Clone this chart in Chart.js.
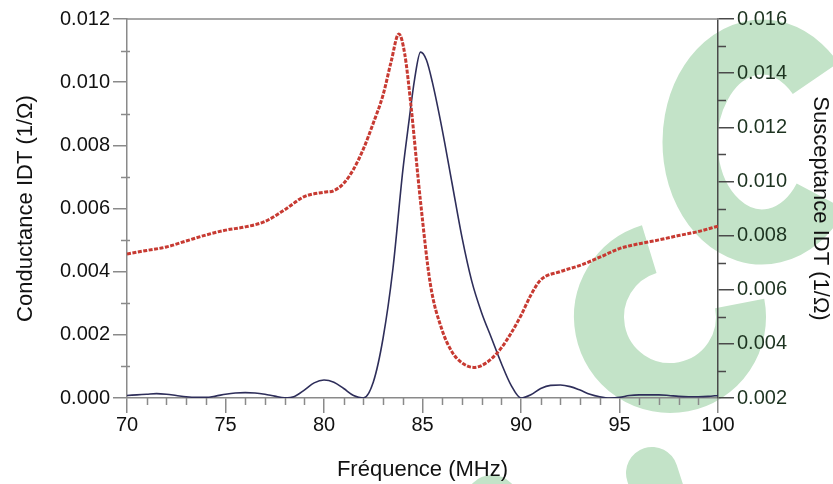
<!DOCTYPE html>
<html>
<head>
<meta charset="utf-8">
<title>Conductance / Susceptance IDT</title>
<script src="https://cdn.jsdelivr.net/npm/chart.js@4.4.1/dist/chart.umd.min.js"></script>
<style>
  html, body { margin: 0; padding: 0; background: #fff; }
  #wrap { width: 833px; height: 484px; }
</style>
</head>
<body>
<div id="wrap"><canvas id="idtChart" width="833" height="484"></canvas></div>
<script>
// Conductance (left axis) - frequency in MHz
const freqG = [70, 70.5, 71, 71.5, 72, 72.5, 73, 73.5, 74, 74.5, 75, 75.5, 76, 76.5, 77, 77.5, 78, 78.5,
  79, 79.5, 80, 80.5, 81, 81.5, 82, 82.5, 83, 83.5, 84, 84.3, 84.6, 84.9, 85.2, 85.5, 86, 86.5, 87, 87.5,
  88, 88.5, 89, 89.5, 90, 90.5, 91, 91.5, 92, 92.5, 93, 93.5, 94, 94.5, 95, 95.5, 96, 96.5, 97, 97.5,
  98, 98.5, 99, 99.5, 100];
const conductance = [0.00008, 0.0001, 0.00012, 0.00014, 0.00012, 0.00008, 0.00004, 0.00002, 0.00002, 0.00006,
  0.00012, 0.00016, 0.00017, 0.00016, 0.00012, 0.00006, 0.00001, 0.00005, 0.00025, 0.00048, 0.00057, 0.0005,
  0.0003, 0.00008, 0.0, 0.0005, 0.0019, 0.0041, 0.0072, 0.0087, 0.0101, 0.01095, 0.0107, 0.01, 0.0085, 0.0068,
  0.0051, 0.0037, 0.0027, 0.0019, 0.0011, 0.0004, 0.0, 0.0001, 0.0003, 0.0004, 0.00041, 0.00036, 0.00025,
  0.00012, 0.00004, 0.0, 0.00002, 0.00008, 0.0001, 0.0001, 0.0001, 0.00008, 0.00005, 0.00004, 0.00004,
  0.00005, 0.00008];

// Susceptance (right axis)
const freqB = [70, 71, 72, 73, 74, 75, 76, 77, 78, 79, 80, 80.5, 81, 81.5, 82, 82.5, 83, 83.4, 83.8, 84.1,
  84.4, 84.9, 85.4, 86, 86.5, 87, 87.6, 88, 88.5, 89, 89.5, 90, 90.5, 91, 92, 93, 94, 95, 96, 97, 98, 99, 100];
const susceptance = [0.00732, 0.00745, 0.00758, 0.0078, 0.00802, 0.0082, 0.00832, 0.00852, 0.00895, 0.00944,
  0.0096, 0.00966, 0.00993, 0.01045, 0.0112, 0.01215, 0.0132, 0.0144, 0.01545, 0.0147, 0.0129, 0.00925,
  0.0062, 0.0045, 0.0037, 0.0033, 0.00313, 0.0032, 0.00345, 0.00385, 0.0044, 0.00505, 0.0058, 0.00636,
  0.00667, 0.0069, 0.0072, 0.00752, 0.0077, 0.00784, 0.008, 0.00815, 0.00835];

// minor tick positions
const xMinor = [71, 72, 73, 74, 76, 77, 78, 79, 81, 82, 83, 84, 86, 87, 88, 89, 91, 92, 93, 94, 96, 97, 98, 99];
const yLeftMinor = [0.001, 0.003, 0.005, 0.007, 0.009, 0.011];
const yRightMinor = [0.003, 0.005, 0.007, 0.009, 0.011, 0.013, 0.015];

const axisGrey = '#8a8a8a';
const axisDark = '#4a4a4a';
const fontFam = "'Liberation Sans', Arial, Helvetica, sans-serif";
const textCol = '#111';

// green background watermark
const watermark = {
  id: 'watermark',
  beforeDraw(chart) {
    const c = chart.ctx;
    const d = Math.PI / 180;
    c.save();
    c.strokeStyle = '#c3e3c8';
    c.fillStyle = '#c3e3c8';
    c.lineWidth = 55;
    c.beginPath();
    c.ellipse(762, 142, 72, 95, 0, 35 * d, 318 * d);
    c.stroke();
    c.lineWidth = 50;
    c.beginPath();
    c.arc(670, 317, 71, -11 * d, 253 * d);
    c.stroke();
    c.lineCap = 'round';
    c.lineWidth = 52;
    c.beginPath();
    c.moveTo(652, 473);
    c.lineTo(664, 510);
    c.stroke();
    c.beginPath();
    c.arc(492, 502, 27, 0, 2 * Math.PI);
    c.fill();
    c.restore();
  }
};

const minorTicks = {
  id: 'minorTicks',
  afterDraw(chart) {
    const { ctx, chartArea: a, scales } = chart;
    ctx.save();
    ctx.lineWidth = 1.5;
    ctx.strokeStyle = axisGrey;
    ctx.beginPath();
    ctx.moveTo(a.left, a.top);
    ctx.lineTo(a.right, a.top);
    xMinor.forEach(f => {
      const px = Math.round(scales.x.getPixelForValue(f)) + 0.5;
      ctx.moveTo(px, a.bottom);
      ctx.lineTo(px, a.bottom + 7);
    });
    yLeftMinor.forEach(v => {
      const py = Math.round(scales.y.getPixelForValue(v)) + 0.5;
      ctx.moveTo(a.left - 6, py);
      ctx.lineTo(a.left + 3, py);
    });
    ctx.stroke();
    ctx.strokeStyle = axisDark;
    ctx.beginPath();
    yRightMinor.forEach(v => {
      const py = Math.round(scales.y2.getPixelForValue(v)) + 0.5;
      ctx.moveTo(a.right, py);
      ctx.lineTo(a.right + 8, py);
    });
    ctx.stroke();
    ctx.restore();
  }
};

function fmt(v) {
  return v.toFixed(3);
}

const ctx = document.getElementById('idtChart').getContext('2d');
new Chart(ctx, {
  type: 'line',
  data: {
    datasets: [
      {
        label: 'Susceptance',
        data: freqB.map((f, i) => ({ x: f, y: susceptance[i] })),
        yAxisID: 'y2',
        borderColor: '#c73a32',
        borderWidth: 3,
        borderDash: [4, 1.5],
        pointRadius: 0,
        cubicInterpolationMode: 'monotone',
        fill: false
      },
      {
        label: 'Conductance',
        data: freqG.map((f, i) => ({ x: f, y: conductance[i] })),
        yAxisID: 'y',
        borderColor: '#2e2e5a',
        borderWidth: 1.6,
        pointRadius: 0,
        cubicInterpolationMode: 'monotone',
        fill: false
      }
    ]
  },
  options: {
    responsive: false,
    animation: false,
    devicePixelRatio: 1,
    layout: { padding: { top: 19, left: 0, right: 0, bottom: 0 } },
    plugins: {
      legend: { display: false },
      tooltip: { enabled: false }
    },
    scales: {
      x: {
        type: 'linear',
        position: 'bottom',
        min: 70,
        max: 100,
        afterFit: s => { s.height = 86; },
        ticks: { stepSize: 5, padding: 0, color: textCol, font: { family: fontFam, size: 20 } },
        grid: { drawOnChartArea: false, tickLength: 15, color: axisGrey, lineWidth: 1.5 },
        border: { color: axisGrey, width: 1.5 },
        title: {
          display: true,
          text: 'Fréquence (MHz)',
          color: textCol,
          font: { family: fontFam, size: 22 },
          padding: { bottom: 1 }
        }
      },
      y: {
        position: 'left',
        min: 0,
        max: 0.012,
        afterFit: s => { s.width = 127; },
        ticks: { stepSize: 0.002, padding: 3, callback: fmt, color: textCol, font: { family: fontFam, size: 20 } },
        grid: { drawOnChartArea: false, tickLength: 14, color: axisGrey, lineWidth: 1.5 },
        border: { color: axisGrey, width: 1.5 },
        title: {
          display: true,
          text: 'Conductance IDT (1/Ω)',
          color: textCol,
          font: { family: fontFam, size: 22 },
          padding: { top: 13 }
        }
      },
      y2: {
        position: 'right',
        min: 0.002,
        max: 0.016,
        afterFit: s => { s.width = 115; },
        ticks: { stepSize: 0.002, padding: 3, callback: fmt, color: '#1d3320', font: { family: fontFam, size: 20 } },
        grid: { drawOnChartArea: false, tickLength: 16, color: axisDark, lineWidth: 1.5 },
        border: { color: axisDark, width: 1.5 },
        title: {
          display: true,
          text: 'Susceptance IDT (1/Ω)',
          color: textCol,
          font: { family: fontFam, size: 22 },
          padding: { top: 0 }
        }
      }
    }
  },
  plugins: [watermark, minorTicks]
});
</script>
</body>
</html>
